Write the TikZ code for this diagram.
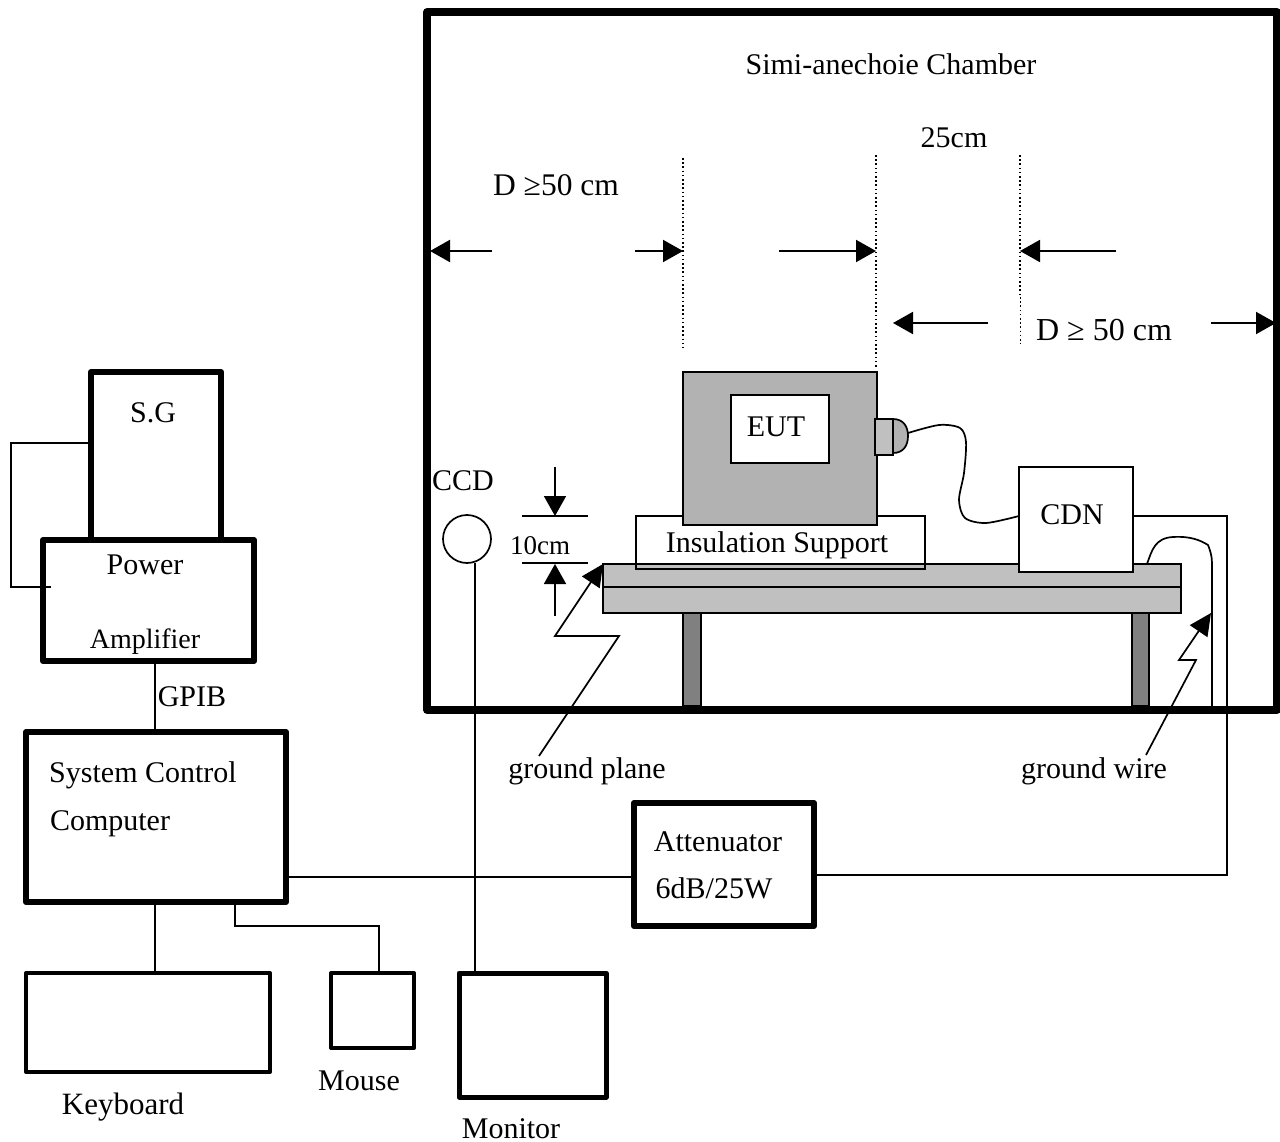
\documentclass[tikz,border=0pt]{standalone}
\usepackage{fontspec}
\setmainfont{Liberation Serif}
\usetikzlibrary{arrows.meta}
\definecolor{eutgray}{HTML}{B2B2B2}
\definecolor{tablegray}{HTML}{C0C0C0}
\definecolor{leggray}{HTML}{808080}
\tikzset{
  thinline/.style={line width=1.7pt,draw=black},
  devbox/.style={draw=black,rectangle,anchor=north west,inner sep=0pt,outer sep=0pt,line width=1.7pt},
  heavybox/.style={devbox,line width=6pt,line join=round},
  midbox/.style={devbox,line width=4pt,line join=round},
  lbl/.style={anchor=base,inner sep=0pt,outer sep=0pt,font=\fontsize{30}{36}\selectfont},
  dimarrow/.style={line width=2pt,-{Triangle[length=20pt,width=22pt]}},
  guide/.style={line width=1.4pt,dash pattern=on 1.6pt off 2.6pt},
}
\begin{document}
\begin{tikzpicture}[x=1pt,y=-1pt]
\useasboundingbox (0,0) rectangle (1280,1142);
% chamber
\node[devbox,line width=7.5pt,line join=round,minimum width=850pt,minimum height=698pt] (chamber) at (427,12) {};
% legs
\node[devbox,fill=leggray,minimum width=18pt,minimum height=93pt] (legl) at (683,613) {};
\node[devbox,fill=leggray,minimum width=17pt,minimum height=93pt] (legr) at (1132,613) {};
% insulation and table
\node[rectangle,fill=white,anchor=north west,inner sep=0pt,minimum width=289pt,minimum height=53pt] (insfill) at (636,516) {};
\node[devbox,fill=tablegray,minimum width=578pt,minimum height=49pt] (table) at (603,564) {};
\draw[line width=1.7pt] (table.west |- 0,587) -- (table.east |- 0,587);
\node[devbox,minimum width=289pt,minimum height=53pt] (insul) at (636,516) {};
% EUT
\node[devbox,fill=eutgray,minimum width=194pt,minimum height=153pt] (eut) at (683,372) {};
\node[devbox,fill=white,minimum width=98pt,minimum height=68pt] (eutin) at (731,395) {};
\node[devbox,fill=tablegray,minimum width=18pt,minimum height=36pt] (plug) at (875,419) {};
\draw[line width=1.7pt,fill=eutgray] (893,419) .. controls (903,419) and (908,426) .. (908,436) .. controls (908,446) and (903,453) .. (893,453) -- cycle;
\coordinate (plugtip) at (908,433);
% CDN
\node[devbox,fill=white,minimum width=114pt,minimum height=105pt] (cdn) at (1019,467) {};
\draw[thinline,smooth] plot coordinates {(plugtip) (939,425) (960,428) (966,442) (964,473) (959,500) (965,518) (986,523) (1019,516)};
% ground wire
\coordinate (gw) at (1212,708);
\draw[thinline] (1147,564) .. controls (1152,550) and (1155,538) .. (1173,537) .. controls (1190,536) and (1200,540) .. (1208,545) .. controls (1210,550) and (1212,556) .. (1212,563) -- (gw);
% guides
\coordinate (g1a) at (683,158); \coordinate (g1b) at (683,348);
\coordinate (g2a) at (876,155); \coordinate (g2b) at (876,367);
\coordinate (g3a) at (1020,155); \coordinate (g3b) at (1020,297); \coordinate (g3c) at (1020,344);
\draw[guide] (g1a) -- (g1b);
\draw[guide] (g2a) -- (g2b);
\draw[guide,line width=2pt] (g3a) -- (g3b);
\draw[guide,line width=0.7pt] (g3b) -- (g3c);
% horizontal dimension arrows
\coordinate (a1) at (492,251); \coordinate (a1t) at (430,251);
\coordinate (a2) at (635,251); \coordinate (a2t) at (683,251);
\coordinate (a3) at (779,251); \coordinate (a3t) at (876,251);
\coordinate (a4) at (1116,251); \coordinate (a4t) at (1020,251);
\coordinate (a5) at (988,323); \coordinate (a5t) at (893,323);
\coordinate (a6) at (1211,323); \coordinate (a6t) at (1276,323);
\foreach \p/\q in {a1/a1t,a2/a2t,a3/a3t,a4/a4t,a5/a5t,a6/a6t} \draw[dimarrow] (\p) -- (\q);
% 10 cm
\coordinate (t1) at (522,516); \coordinate (t2) at (588,516);
\coordinate (b1) at (522,563); \coordinate (b2) at (588,563);
\draw[thinline] (t1) -- (t2);
\draw[thinline] (b1) -- (b2);
\coordinate (va) at (555,467); \coordinate (vat) at (555,516);
\coordinate (vb) at (555,616); \coordinate (vbt) at (555,564);
\draw[dimarrow,line width=1.7pt] (va) -- (vat);
\draw[dimarrow,line width=1.7pt] (vb) -- (vbt);
% zigzag leaders
\coordinate (gp0) at (539,756); \coordinate (gw0) at (1146,755);
\draw[thinline,line join=miter,-{Triangle[length=22pt,width=21pt]}] (gp0) -- (619,636) -- (555,636) -- (table.north west);
\draw[thinline,line join=miter,-{Triangle[length=22pt,width=21pt]}] (gw0) -- (1196,660) -- (1179,660) -- (1211,613);
% left devices
\node[heavybox,fill=white,minimum width=130pt,minimum height=168pt] (sg) at (91,372) {};
\node[heavybox,fill=white,minimum width=211pt,minimum height=121pt] (pa) at (43,540) {};
\node[heavybox,fill=white,minimum width=260pt,minimum height=170pt] (sc) at (26,732) {};
\node[midbox,fill=white,minimum width=244pt,minimum height=99pt] (kb) at (26,973) {};
\node[midbox,fill=white,minimum width=83pt,minimum height=75pt] (mouse) at (331,973) {};
\node[heavybox,line width=5pt,fill=white,minimum width=147pt,minimum height=124pt] (mon) at (459,973) {};
\node[heavybox,fill=white,minimum width=180pt,minimum height=123pt] (att) at (634,803) {};
\node[draw=black,circle,fill=white,inner sep=0pt,outer sep=0pt,line width=1.7pt,minimum size=48pt] (ccd) at (467,539) {};
% connectors
\coordinate (loopa) at (11,443);
\coordinate (loopb) at (11,587);
\draw[thinline] (sg.west |- loopa) -- (loopa) -- (loopb) -- ([xshift=8pt]pa.west |- loopb);
\draw[thinline] ([xshift=6.5pt]pa.south) -- (sc.north -| 155,0);
\draw[thinline] (sc.south -| 155,0) -- (kb.north -| 155,0);
\draw[thinline] (sc.south -| 235,0) |- (379,926) -- (mouse.north -| 379,0);
\draw[thinline] (475,563) -- (mon.north -| 475,0);
\draw[thinline] (sc.east |- 0,877) -- (att.west |- 0,877);
\draw[thinline] (att.east |- 0,875) -| (1227,516) -- (1132,516);
% labels
\node[lbl] (tchamber) at (891,75) {Simi-anechoie Chamber};
\node[lbl] (t25) at (954,148) {25cm};
\node[lbl,font=\fontsize{31.5}{36}\selectfont] (td1) at (556,196) {D ≥50 cm};
\node[lbl,font=\fontsize{32}{36}\selectfont] (td2) at (1104,340) {D ≥ 50 cm};
\node[lbl] (tsg) at (153,422) {S.G};
\node[lbl] (tpower) at (145,574) {Power};
\node[lbl,font=\fontsize{28}{36}\selectfont] (tamp) at (145,648) {Amplifier};
\node[lbl] (tgpib) at (192,706) {GPIB};
\node[lbl] (teut) at (776,436) {EUT};
\node[lbl] (tins) at (777,552) {Insulation Support};
\node[lbl] (tcdn) at (1072,524) {CDN};
\node[lbl] (tccd) at (463,490) {CCD};
\node[lbl,font=\fontsize{27}{32}\selectfont] (t10) at (540,554) {10cm};
\node[lbl] (tgp) at (587,778) {ground plane};
\node[lbl] (tgw) at (1094,778) {ground wire};
\node[lbl] (tsys) at (143,782) {System Control};
\node[lbl] (tcomp) at (110,830) {Computer};
\node[lbl] (tatt) at (718,851) {Attenuator};
\node[lbl] (tdb) at (714,898) {6dB/25W};
\node[lbl,font=\fontsize{31}{36}\selectfont] (tkb) at (123,1114) {Keyboard};
\node[lbl] (tmouse) at (359,1090) {Mouse};
\node[lbl] (tmon) at (511,1138) {Monitor};
\end{tikzpicture}
\end{document}
